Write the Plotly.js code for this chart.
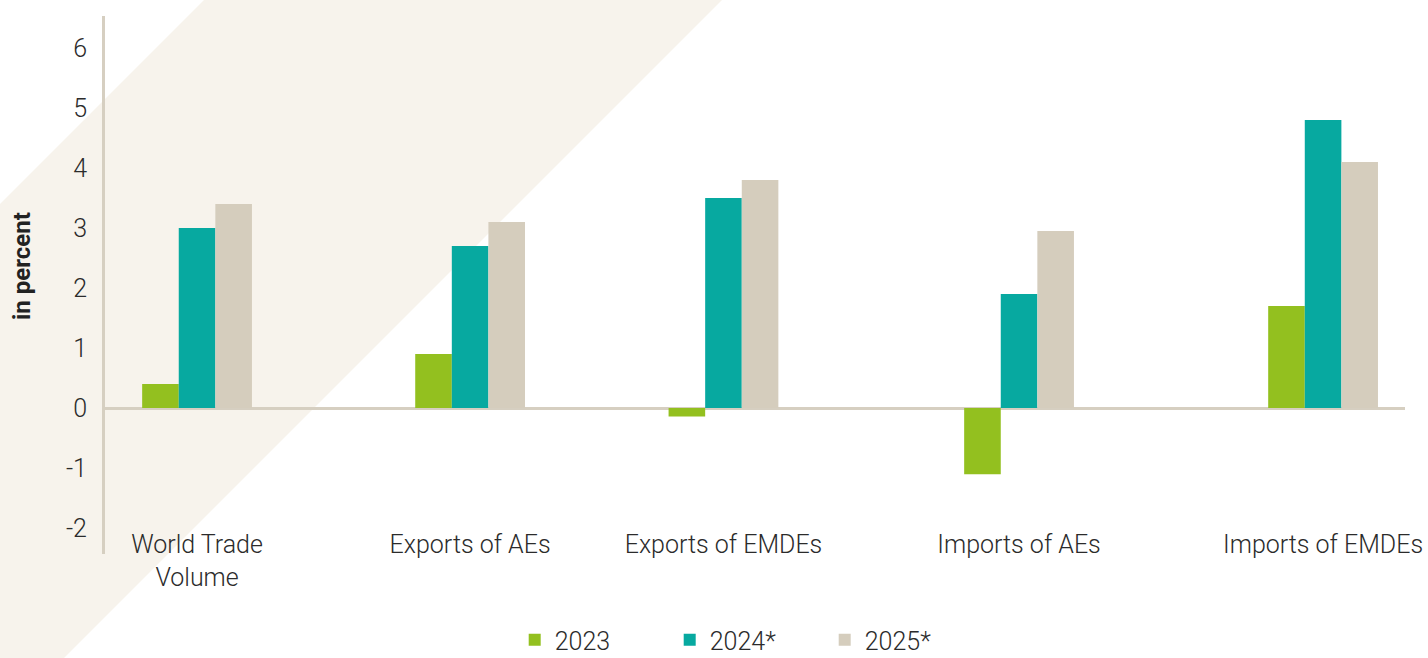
<!DOCTYPE html>
<html>
<head>
<meta charset="utf-8">
<script src="https://cdn.plot.ly/plotly-3.0.1.min.js"></script>
<style>
  html, body { margin: 0; padding: 0; background: #ffffff; }
  #chart { width: 1428px; height: 658px; }
</style>
</head>
<body>
<div id="chart"></div>
<script>
// ---- data ----
const categories = ['World Trade<br>Volume', 'Exports of AEs', 'Exports of EMDEs', 'Imports of AEs', 'Imports of EMDEs'];
const categoryPositions = [0, 0.97, 1.87, 2.92, 4.0];
const values2023 = [0.4, 0.9, -0.14, -1.1, 1.7];
const values2024 = [3.0, 2.7, 3.5, 1.9, 4.8];
const values2025 = [3.4, 3.1, 3.8, 2.95, 4.1];
const seriesNames = ['2023', '2024*', '2025*'];
const yTicks = [-2, -1, 0, 1, 2, 3, 4, 5, 6];

// ---- layout constants ----
const W = 1428, H = 658;
const M = {l: 105, r: 23, t: 16, b: 104, autoexpand: false};
const PW = W - M.l - M.r, PH = H - M.t - M.b;
const colors = ['#93c01f', '#07a9a0', '#d5cdbd'];
const barW = 0.13;
const offsets = [-1.5 * barW, -0.5 * barW, 0.5 * barW];

function px2paper(x, y) { return [(x - M.l) / PW, (H - M.b - y) / PH]; }
const bandPx = [[204, 0], [722, 0], [64, 658], [0, 658], [0, 204]];
const bandPath = bandPx.map((p, i) => {
  const q = px2paper(p[0], p[1]);
  return (i === 0 ? 'M' : 'L') + q[0].toFixed(5) + ',' + q[1].toFixed(5);
}).join(' ') + ' Z';

const seriesValues = [values2023, values2024, values2025];
const traces = seriesValues.map((vals, i) => ({
  type: 'bar',
  name: seriesNames[i],
  x: categoryPositions,
  y: vals,
  width: barW,
  offset: offsets[i],
  marker: {color: colors[i], line: {width: 0}},
  hoverinfo: 'skip'
}));

const textColor = '#2b2b2b';
const font = {family: 'Roboto, "Open Sans", sans-serif', color: textColor, size: 25, weight: 300};

const layout = {
  width: W, height: H,
  margin: M,
  paper_bgcolor: '#ffffff',
  plot_bgcolor: 'rgba(0,0,0,0)',
  font: font,
  showlegend: true,
  barmode: 'overlay',
  xaxis: {
    type: 'linear',
    range: [-0.327, 4.291],
    tickvals: categoryPositions,
    ticktext: categories,
    showgrid: false, zeroline: false, showline: false,
    ticks: '',
    ticklabelstandoff: -27,
    tickfont: {size: 25, color: textColor, weight: 300}
  },
  yaxis: {
    range: [-2.43, 6.53],
    tickvals: yTicks,
    ticktext: yTicks.map(String),
    showgrid: false,
    zeroline: true, zerolinecolor: '#d6cfc1', zerolinewidth: 3,
    showline: true, linecolor: '#d6cfc1', linewidth: 3,
    ticks: '',
    ticklabelstandoff: 10,
    tickfont: {size: 25, color: textColor, weight: 300}
  },
  legend: {
    orientation: 'h',
    x: 0.494, xanchor: 'center',
    y: -0.160, yanchor: 'middle',
    font: {size: 25, color: textColor, weight: 300},
    entrywidth: 110,
    traceorder: 'normal',
    bgcolor: 'rgba(0,0,0,0)'
  },
  annotations: [{
    text: '<b>in percent</b>',
    xref: 'paper', yref: 'paper',
    x: (22 - M.l) / PW, y: (H - M.b - 266) / PH,
    xanchor: 'center', yanchor: 'middle',
    textangle: -90, showarrow: false,
    font: {size: 24, color: '#222222', weight: 700}
  }],
  shapes: [{
    type: 'path', xref: 'paper', yref: 'paper',
    path: bandPath,
    fillcolor: '#f7f3ec', line: {width: 0},
    layer: 'below'
  }]
};

Plotly.newPlot('chart', traces, layout, {displayModeBar: false, staticPlot: true});
</script>
</body>
</html>
